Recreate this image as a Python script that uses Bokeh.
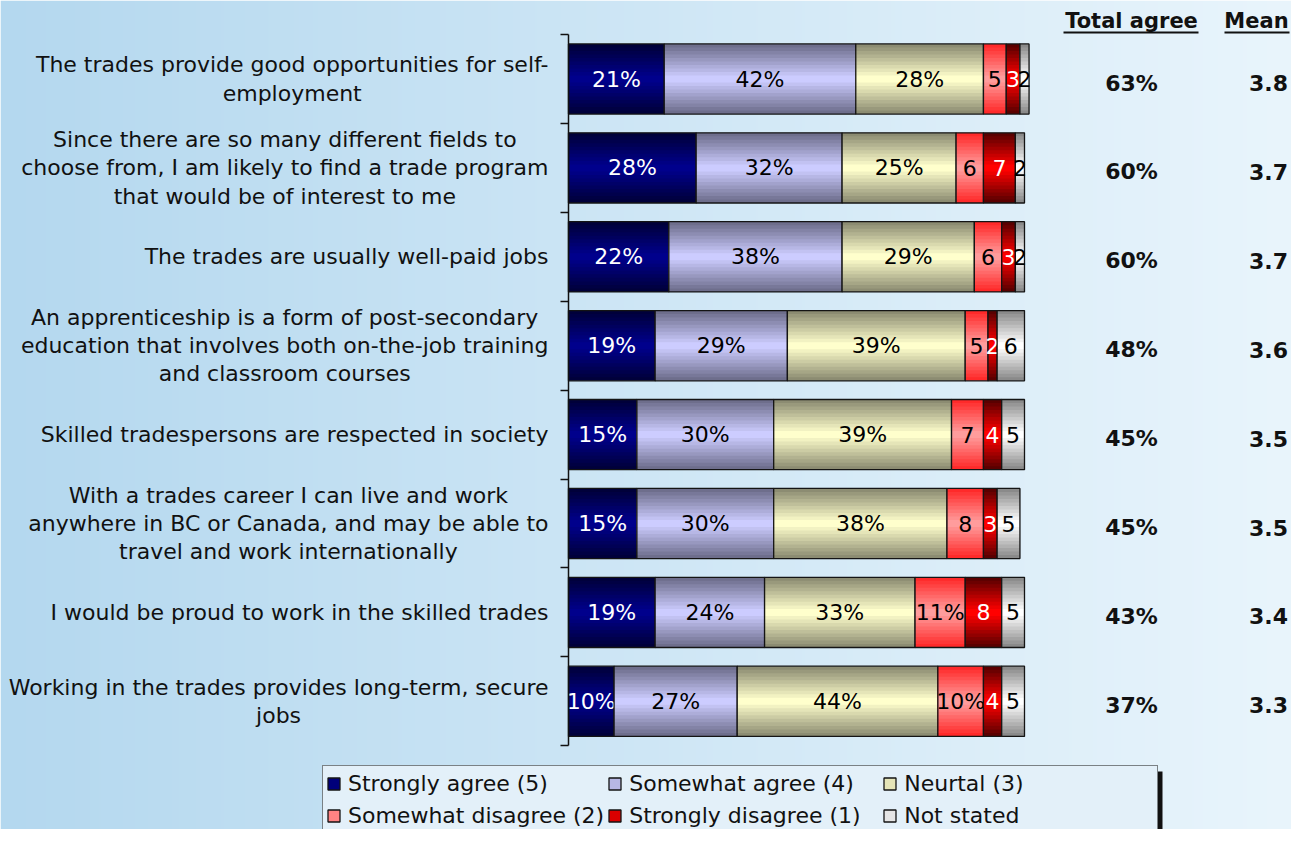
import numpy as np
from bokeh.plotting import figure
from bokeh.models import (ColumnDataSource, Range1d, LinearAxis, FixedTicker,
                          Legend, LegendItem)
from bokeh.core.properties import value
from bokeh.embed import file_html
from bokeh.resources import INLINE

# ---------------- data ----------------
statements = [
    "The trades provide good opportunities for self-\nemployment",
    "Since there are so many different fields to\nchoose from, I am likely to find a trade program\nthat would be of interest to me",
    "The trades are usually well-paid jobs",
    "An apprenticeship is a form of post-secondary\neducation that involves both on-the-job training\nand classroom courses",
    "Skilled tradespersons are respected in society",
    "With a trades career I can live and work\nanywhere in BC or Canada, and may be able to\ntravel and work internationally",
    "I would be proud to work in the skilled trades",
    "Working in the trades provides long-term, secure\njobs",
]
series_names = ["Strongly agree (5)", "Somewhat agree (4)", "Neurtal (3)",
                "Somewhat disagree (2)", "Strongly disagree (1)", "Not stated"]
strongly_agree = [21, 28, 22, 19, 15, 15, 19, 10]
somewhat_agree = [42, 32, 38, 29, 30, 30, 24, 27]
neutral = [28, 25, 29, 39, 39, 38, 33, 44]
somewhat_disagree = [5, 6, 6, 5, 7, 8, 11, 10]
strongly_disagree = [3, 7, 3, 2, 4, 3, 8, 4]
not_stated = [2, 2, 2, 6, 5, 5, 5, 5]
total_agree = [63, 60, 60, 48, 45, 45, 43, 37]
mean_score = [3.8, 3.7, 3.7, 3.6, 3.5, 3.5, 3.4, 3.3]
header_total = "Total agree"
header_mean = "Mean"

series_values = [strongly_agree, somewhat_agree, neutral,
                 somewhat_disagree, strongly_disagree, not_stated]

# ---------------- styles ----------------
edge_colors = ["#00003a", "#6e6e8c", "#8c8c72", "#ff2a2a", "#5a0000", "#8a8a8a"]
center_colors = ["#00008c", "#ccccff", "#ffffcc", "#ff9c9c", "#ff0000", "#ffffff"]
text_colors = ["white", "black", "black", "black", "white", "black"]

W, H = 1291, 829
PX = 4.56            # pixels per percent
X0 = 568             # px of the 0% line
Y0, DY = 78.5, 88.9  # px of first row centre, row pitch
BAR_H = 0.79
FONT_NAME = "DejaVu Sans"
FONT = value(FONT_NAME)


def hex2rgb(h):
    h = h.lstrip("#")
    return np.array([int(h[i:i + 2], 16) for i in (0, 2, 4)], dtype=float)


def mix(c1, c2, t):
    a, b = hex2rgb(c1), hex2rgb(c2)
    c = a + (b - a) * t
    return "#%02x%02x%02x" % tuple(int(round(v)) for v in c)


def px_x(px):
    return (px - X0) / PX


def px_y(py):
    return (py - Y0) / DY


x_start = px_x(0)
x_end = px_x(W)
y_top = px_y(0)
y_bottom = px_y(H)

p = figure(width=W, height=H, output_backend="svg", toolbar_location=None,
           x_range=Range1d(x_start, x_end), y_range=Range1d(y_bottom, y_top),
           x_axis_location=None, y_axis_location=None,
           min_border=0, min_border_left=0, min_border_right=0,
           min_border_top=0, min_border_bottom=0)
p.outline_line_color = None
p.grid.visible = False
p.border_fill_color = "#c8e4f3"

# background horizontal gradient
N = W
grad = np.zeros((2, N), dtype=np.uint32)
view = grad.view(dtype=np.uint8).reshape((2, N, 4))
left_c = np.array([180, 216, 239], dtype=float)
right_c = np.array([233, 245, 252], dtype=float)
t = np.linspace(0, 1, N)
for ch in range(3):
    view[:, :, ch] = (left_c[ch] + (right_c[ch] - left_c[ch]) * t).astype(np.uint8)
view[:, :, 3] = 255
p.image_rgba(image=[grad], x=x_start, y=y_top, dw=x_end - x_start, dh=y_bottom - y_top)

rows = list(range(len(statements)))

# stacked bars with vertical gradient layers
L = 10
legend_items = []
cum = np.zeros(len(rows))
for s, vals in enumerate(series_values):
    vals = np.array(vals, dtype=float)
    left = cum.copy()
    right = cum + vals
    cum = right
    labels = [f"{int(v)}%" if v >= 10 else f"{int(v)}" for v in vals]
    src = ColumnDataSource(dict(y=rows, left=left, right=right,
                                mid=(left + right) / 2, label=labels))
    mid_r = None
    for j in range(L):
        frac = j / (L - 1)
        r = p.hbar(y="y", left="left", right="right", height=BAR_H * (1 - j / L),
                   fill_color=mix(edge_colors[s], center_colors[s], frac),
                   line_color=None, source=src)
        if j == L - 3:
            mid_r = r
    outline = p.hbar(y="y", left="left", right="right", height=BAR_H,
                     fill_color=None, line_color="#141414", line_width=1.3,
                     source=src)
    p.text(x="mid", y="y", text="label", source=src, text_align="center",
           text_baseline="middle", text_color=text_colors[s],
           text_font=FONT, text_font_size="22px")
    legend_items.append(LegendItem(label=series_names[s],
                                   renderers=[mid_r, outline]))

# category labels: block right-aligned at the axis, lines centred in the block
lab_src = ColumnDataSource(dict(y=rows, text=statements))
p.text(x=px_x(548), y="y", text="text", source=lab_src,
       anchor=value("center_right"), text_align="center",
       text_baseline="middle", text_font=FONT, text_font_size="22px",
       text_color="#111111", text_line_height=1.13)

# right-hand columns
tot_src = ColumnDataSource(dict(y=rows, t=[f"{v}%" for v in total_agree],
                                m=[f"{v:.1f}" for v in mean_score]))
x_tot = px_x(1131)
x_mean = px_x(1268)
p.text(x=x_tot, y="y", text="t", source=tot_src, text_align="center",
       text_baseline="middle", text_font=FONT, text_font_size="22px",
       text_font_style="bold", text_color="#111111", y_offset=4)
p.text(x=x_mean, y="y", text="m", source=tot_src, text_align="center",
       text_baseline="middle", text_font=FONT, text_font_size="22px",
       text_font_style="bold", text_color="#111111", y_offset=4)

# headers (bold, underlined)
y_head = px_y(20)
hdr_src = ColumnDataSource(dict(x=[x_tot, px_x(1256)], y=[y_head, y_head],
                                text=[header_total, header_mean]))
p.text(x="x", y="y", text="text", source=hdr_src, text_align="center",
       text_baseline="middle", text_font=FONT, text_font_size="21px",
       text_font_style="bold", text_color="#111111")
y_ul = px_y(32)
p.segment(x0=[px_x(1063), px_x(1224)], y0=[y_ul, y_ul],
          x1=[px_x(1198), px_x(1289)], y1=[y_ul, y_ul],
          line_color="#111111", line_width=2)

# category axis with ticks at the row boundaries
bounds = [r - 0.5 for r in rows] + [rows[-1] + 0.5]
yaxis = LinearAxis(fixed_location=0, ticker=FixedTicker(ticks=bounds),
                   bounds=(bounds[0], bounds[-1]),
                   major_label_overrides={b: "" for b in bounds},
                   major_tick_out=8, major_tick_in=0,
                   minor_tick_out=0, minor_tick_in=0,
                   axis_line_color="#111111", axis_line_width=1.5,
                   major_tick_line_color="#111111", major_tick_line_width=1.5)
p.add_layout(yaxis, "left")

# legend drop shadow (right edge of the legend box)
p.quad(left=[px_x(1157)], right=[px_x(1162)], top=[px_y(771)], bottom=[px_y(H)],
       fill_color="#111111", line_color=None)

# legend
legend = Legend(items=legend_items, ncols=3, orientation="horizontal",
                location=(322, -5),
                label_text_font=FONT_NAME, label_text_font_size="22px",
                label_text_color="#111111",
                glyph_width=15, glyph_height=15, label_standoff=7,
                label_width=250, label_height=29, spacing=3, padding=3,
                margin=0,
                background_fill_color="#e3f0f9", background_fill_alpha=1,
                border_line_color="#111111", border_line_width=1.5)
p.add_layout(legend)

open("out.html", "w").write(file_html(p, INLINE))
